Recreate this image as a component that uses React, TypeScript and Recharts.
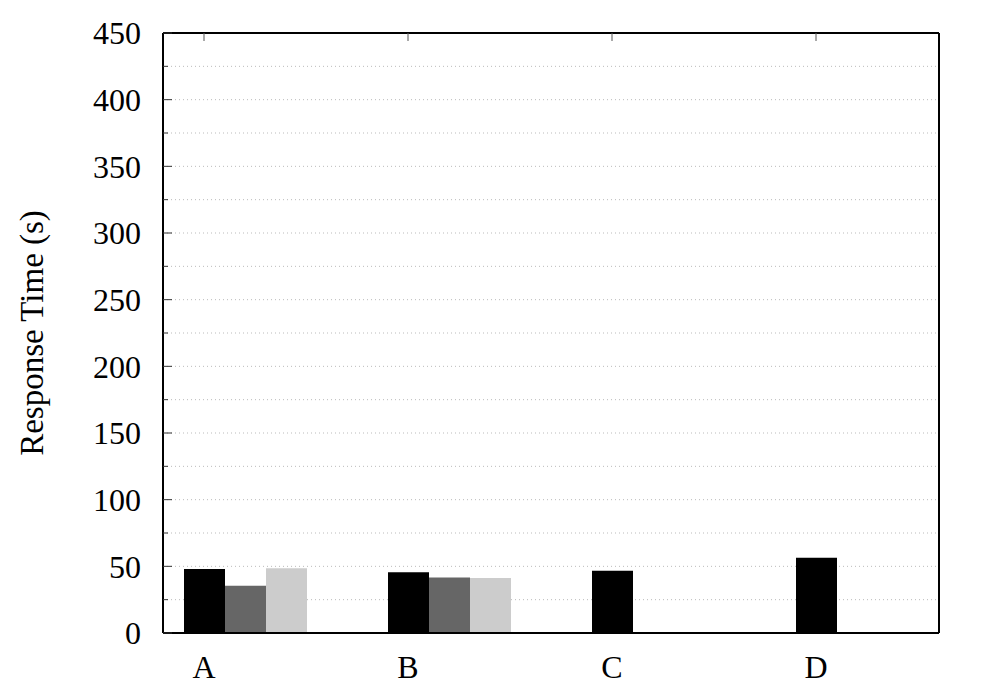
import React from "react";
import { BarChart, Bar, XAxis, YAxis, CartesianGrid } from "recharts";

const categories = ["A", "B", "C", "D"];
const series1 = [48, 45.5, 46.7, 56.5];
const series2: (number | null)[] = [35.5, 41.7, null, null];
const series3: (number | null)[] = [48.5, 41.2, null, null];
const yTicks = [0, 25, 50, 75, 100, 125, 150, 175, 200, 225, 250, 275, 300, 325, 350, 375, 400, 425, 450];

const data = categories.map((c, i) => ({ cat: c, s1: series1[i], s2: series2[i], s3: series3[i] }));

const FONT = '"Liberation Serif", "Times New Roman", serif';
const BAR_SIZE = 41;
const TICK_MARGIN_LEFT = 22;

const LeftTick = (props: any) => {
  const { x, y, payload } = props;
  const major = payload.value % 50 === 0;
  const edge = x + TICK_MARGIN_LEFT;
  return (
    <g>
      <line x1={edge} x2={edge + (major ? 9 : 5)} y1={y} y2={y} stroke="#333" strokeWidth={1} />
      {major && (
        <text x={x} y={y} dy="0.35em" textAnchor="end" fontFamily={FONT} fontSize={32} fill="#000">
          {payload.value}
        </text>
      )}
    </g>
  );
};

const RightTick = (props: any) => {
  const { x, y, payload } = props;
  const major = payload.value % 50 === 0;
  return <line x1={x - (major ? 9 : 5)} x2={x} y1={y} y2={y} stroke="#333" strokeWidth={1} />;
};

const BottomTick = (props: any) => {
  const { x, y, payload } = props;
  return (
    <text x={x - BAR_SIZE} y={y + 45} textAnchor="middle" fontFamily={FONT} fontSize={32} fill="#000">
      {payload.value}
    </text>
  );
};

const TopTick = (props: any) => {
  const { x, y } = props;
  return <line x1={x - BAR_SIZE} x2={x - BAR_SIZE} y1={y} y2={y + 8} stroke="#555" strokeWidth={1} />;
};

const YLabel = (props: any) => {
  const vb = props.viewBox || {};
  const cx = vb.x + 35;
  const cy = vb.y + vb.height / 2;
  return (
    <text x={cx} y={cy} transform={`rotate(-90 ${cx} ${cy})`} textAnchor="middle" fontFamily={FONT} fontSize={33} fill="#000">
      Response Time (s)
    </text>
  );
};

export default function App() {
  return (
    <div style={{ width: 992, height: 692, background: "#fff" }}>
      <BarChart
        width={992}
        height={692}
        data={data}
        margin={{ top: 20, right: 51, bottom: 7, left: 0 }}
        barSize={BAR_SIZE}
        barGap={0}
      >
        <CartesianGrid vertical={false} stroke="#bbb" strokeDasharray="1 3" yAxisId="left" />
        <XAxis
          xAxisId="bottom"
          dataKey="cat"
          orientation="bottom"
          height={60}
          padding={{ left: -20, right: -20 }}
          tickSize={0}
          tickMargin={0}
          tickLine={false}
          axisLine={{ stroke: "#000", strokeWidth: 2 }}
          tick={<BottomTick />}
          interval={0}
        />
        <XAxis
          xAxisId="top"
          dataKey="cat"
          orientation="top"
          height={5}
          padding={{ left: -20, right: -20 }}
          tickSize={0}
          tickMargin={0}
          tickLine={false}
          axisLine={{ stroke: "#000", strokeWidth: 2 }}
          tick={<TopTick />}
          interval={0}
        />
        <YAxis
          yAxisId="left"
          orientation="left"
          width={155}
          domain={[0, 450]}
          ticks={yTicks}
          interval={0}
          tickSize={0}
          tickMargin={TICK_MARGIN_LEFT}
          tickLine={false}
          axisLine={{ stroke: "#000", strokeWidth: 2 }}
          tick={<LeftTick />}
          label={{ content: <YLabel /> }}
        />
        <YAxis
          yAxisId="right"
          orientation="right"
          width={10}
          domain={[0, 450]}
          ticks={yTicks}
          interval={0}
          tickSize={0}
          tickMargin={0}
          tickLine={false}
          axisLine={{ stroke: "#000", strokeWidth: 2 }}
          tick={<RightTick />}
        />
        <Bar xAxisId="bottom" yAxisId="left" dataKey="s1" fill="#000000" isAnimationActive={false} />
        <Bar xAxisId="bottom" yAxisId="left" dataKey="s2" fill="#666666" isAnimationActive={false} />
        <Bar xAxisId="bottom" yAxisId="left" dataKey="s3" fill="#cccccc" isAnimationActive={false} />
      </BarChart>
    </div>
  );
}
